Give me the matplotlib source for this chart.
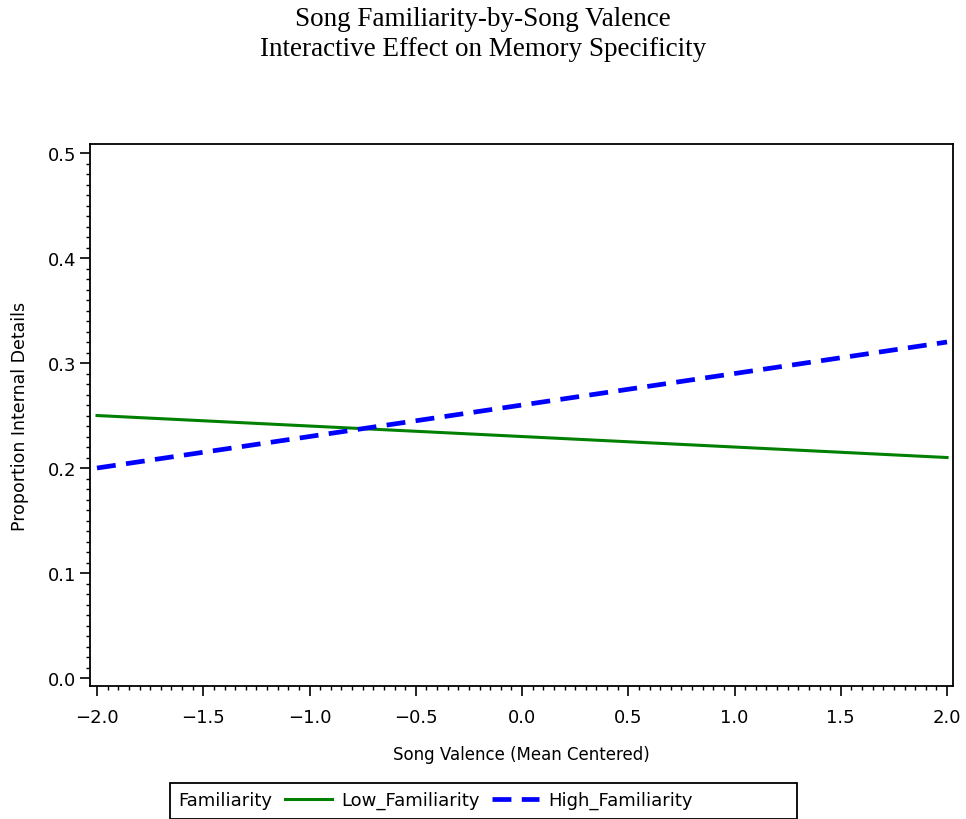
import matplotlib
matplotlib.use("Agg")
import matplotlib.pyplot as plt
from matplotlib.patches import Rectangle
from matplotlib.ticker import MultipleLocator

# data
valence = [-2.0, -1.0, 0.0, 1.0, 2.0]
low_fam = [0.250, 0.240, 0.230, 0.220, 0.210]
high_fam = [0.200, 0.230, 0.260, 0.290, 0.320]
series_names = ["Low_Familiarity", "High_Familiarity"]

plt.rcParams['font.family'] = ['DejaVu Sans']

fig = plt.figure(figsize=(9.66, 8.2), dpi=100)
ax = fig.add_axes([90/966, 1-687/820, 863/966, 542/820])

ax.plot(valence, low_fam, color='#008000', lw=2.2, label=series_names[0])
ax.plot(valence, high_fam, color='#0000ff', lw=3.4, dashes=(4.0, 2.2),
        label=series_names[1])

ax.set_xlim(-2.033, 2.028)
ax.set_ylim(-0.0076, 0.5086)
ax.xaxis.set_major_locator(MultipleLocator(0.5))
ax.xaxis.set_minor_locator(MultipleLocator(0.05))
ax.yaxis.set_major_locator(MultipleLocator(0.1))
ax.yaxis.set_minor_locator(MultipleLocator(0.01))
ax.xaxis.set_major_formatter(lambda v, p: f"{v:.1f}".replace('-', '\u2212'))
ax.yaxis.set_major_formatter(lambda v, p: f"{v:.1f}")
ax.tick_params(which='major', length=7, width=1.2, labelsize=13)
ax.tick_params(which='minor', length=3, width=1.0)
ax.tick_params(axis='x', which='major', pad=9)
ax.tick_params(axis='y', which='major', pad=3)
for s in ax.spines.values():
    s.set_linewidth(1.3)

ax.set_xlabel("Song Valence (Mean Centered)", fontsize=12, va='center')
ax.set_ylabel("Proportion Internal Details", fontsize=12.5, va='center')
ax.xaxis.set_label_coords(0.5, (687-755)/542)
ax.yaxis.set_label_coords((20-90)/863, 0.5)

fig.text(0.5, 1-20/820, "Song Familiarity-by-Song Valence", ha='center', va='center',
         family='Liberation Serif', fontsize=19.5)
fig.text(0.5, 1-50/820, "Interactive Effect on Memory Specificity", ha='center', va='center',
         family='Liberation Serif', fontsize=19.5)

# legend box with inline title
fig.patches.append(Rectangle((170/966, 0), 627/966, 36/820, transform=fig.transFigure,
                             fill=False, edgecolor='black', lw=1.3))
fig.text(178/966, 1-801/820, "Familiarity", ha='left', va='center', fontsize=13)
h, l = ax.get_legend_handles_labels()
fig.legend(h, l, ncol=2, frameon=False, fontsize=13, handlelength=2.6,
           handletextpad=0.5, columnspacing=0.7, loc='center left',
           bbox_to_anchor=(285/966, 1-801/820), borderaxespad=0, borderpad=0)

fig.savefig("out.png", dpi=100)
